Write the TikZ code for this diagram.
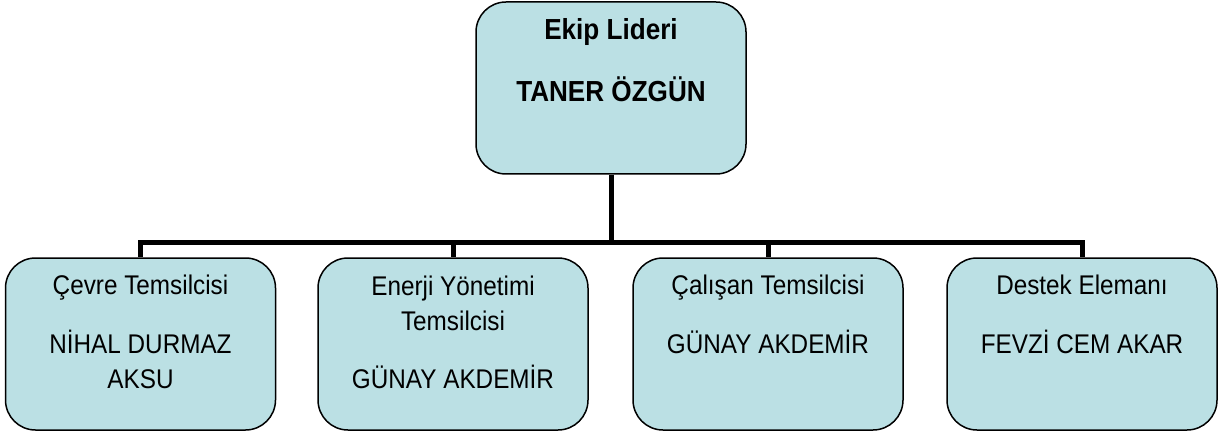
\documentclass[tikz,border=0pt]{standalone}
\usepackage{fontspec}
\setmainfont[FakeStretch=0.9]{Liberation Sans}
\definecolor{boxfill}{RGB}{187,224,228}
\tikzset{
  orgbox/.style={draw=black, line width=1.5pt, fill=boxfill, rounded corners=30pt,
    minimum width=270pt, minimum height=172pt, inner sep=0pt},
  conn/.style={line width=5pt, line cap=butt},
  toptxt/.style={font=\fontsize{29}{34}\selectfont\bfseries, anchor=base},
  txt/.style={font=\fontsize{27}{35}\selectfont, anchor=base, align=center},
}
\begin{document}
\begin{tikzpicture}[x=1pt,y=1pt]
\useasboundingbox (0,0) rectangle (1222,434);
% boxes (y = 434 - pixel y)
\node[orgbox] (top) at (611,346) {};
\node[orgbox] (b1) at (140.5,90) {};
\node[orgbox] (b2) at (453,90) {};
\node[orgbox] (b3) at (768,90) {};
\node[orgbox] (b4) at (1082,90) {};
% connectors
\coordinate (bus) at (611,191);
\draw[conn] (top.south) -- (bus);
\draw[conn, line cap=rect] (b1.north |- bus) -- (b4.north |- bus);
\draw[conn] (b1.north |- bus) -- (b1.north);
\draw[conn] (b2.north |- bus) -- (b2.north);
\draw[conn] (b3.north |- bus) -- (b3.north);
\draw[conn] (b4.north |- bus) -- (b4.north);
% texts (anchor base = baseline of last line)
\node[toptxt] (t1) at (611,394) {Ekip Lideri};
\node[toptxt] (t2) at (611,332) {TANER ÖZGÜN};
\node[txt] (c1) at (140.5,140) {Çevre Temsilcisi};
\node[txt] (c2) at (140.5,46) {NİHAL DURMAZ\\AKSU};
\node[txt] (e1) at (453,104) {Enerji Yönetimi\\Temsilcisi};
\node[txt] (e2) at (453,46) {GÜNAY AKDEMİR};
\node[txt] (s1) at (768,140) {Çalışan Temsilcisi};
\node[txt] (s2) at (768,81) {GÜNAY AKDEMİR};
\node[txt] (d1) at (1082,140) {Destek Elemanı};
\node[txt] (d2) at (1082,81) {FEVZİ CEM AKAR};
\end{tikzpicture}
\end{document}
